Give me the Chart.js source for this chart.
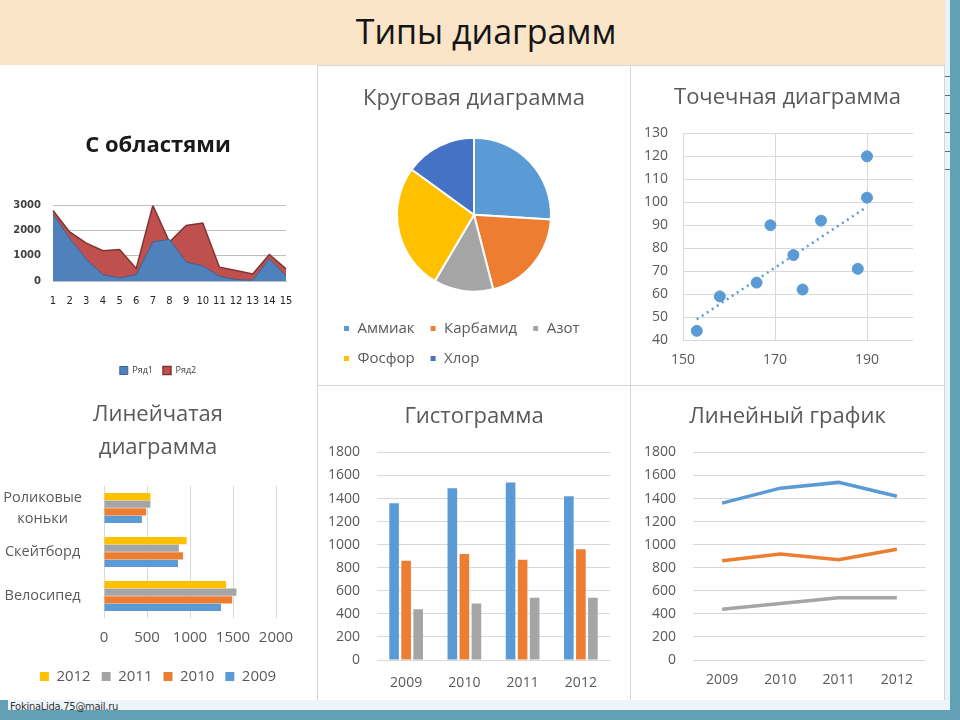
<!DOCTYPE html>
<html lang="ru">
  <head>
    <meta charset="UTF-8" />
    <title>Типы диаграмм</title>
    <script src="https://cdn.jsdelivr.net/npm/chart.js"></script>
    <style>
      body {
        margin: 0;
        width: 960px;
        height: 720px;
        overflow: hidden;
        position: relative;
        background: #fff;
        font-family: "Open Sans", sans-serif;
      }
      .abs {
        position: absolute;
      }
      #header {
        left: 0;
        top: 0;
        width: 945px;
        height: 65px;
        background: #fbe5c9;
      }
      #header div {
        position: absolute;
        left: 236px;
        top: 8px;
        width: 500px;
        text-align: center;
        font-size: 34px;
        color: #151515;
      }
      .line {
        position: absolute;
        background: #d6d6d6;
      }
      .tick {
        position: absolute;
        left: 945px;
        width: 5px;
        height: 1px;
        background: #666;
      }
      #footer-text {
        left: 10px;
        top: 701px;
        font-size: 10px;
        color: #333;
        font-family: "DejaVu Sans", sans-serif;
        letter-spacing: -0.3px;
      }
    </style>
  </head>

  <body>
    <div id="header" class="abs"><div>Типы диаграмм</div></div>

    <!-- frame -->
    <div class="abs" style="left: 945px; top: 0; width: 5px; height: 710px; background: #eaf3f7"></div>
    <div class="abs" style="left: 950px; top: 0; width: 10px; height: 720px; background: #62a0b5"></div>
    <div class="abs" style="left: 0; top: 700px; width: 950px; height: 10px; background: #eef5f8"></div>
    <div class="abs" style="left: 0; top: 710px; width: 960px; height: 10px; background: #62a0b5"></div>
    <div class="abs" style="left: 0; top: 700px; width: 8px; height: 12px; background: #62a0b5"></div>
    <div class="tick" style="top: 76px"></div>
    <div class="tick" style="top: 95px"></div>
    <div class="tick" style="top: 113px"></div>
    <div class="tick" style="top: 132px"></div>
    <div class="tick" style="top: 151px"></div>
    <div class="tick" style="top: 169px"></div>

    <!-- panel dividers -->
    <div class="line" style="left: 318px; top: 65px; width: 627px; height: 1px"></div>
    <div class="line" style="left: 317px; top: 65px; width: 1px; height: 635px"></div>
    <div class="line" style="left: 630px; top: 65px; width: 1px; height: 635px"></div>
    <div class="line" style="left: 318px; top: 385px; width: 627px; height: 1px"></div>
    <div class="line" style="left: 944px; top: 65px; width: 1px; height: 635px"></div>

    <canvas id="areaChart" class="abs" style="left: 0; top: 65px" width="316" height="320"></canvas>
    <canvas id="pieChart" class="abs" style="left: 318px; top: 66px" width="312" height="319"></canvas>
    <canvas id="scatterChart" class="abs" style="left: 631px; top: 66px" width="313" height="319"></canvas>
    <canvas id="hbarChart" class="abs" style="left: 0; top: 385px" width="316" height="315"></canvas>
    <canvas id="histChart" class="abs" style="left: 318px; top: 386px" width="312" height="314"></canvas>
    <canvas id="lineChart" class="abs" style="left: 631px; top: 386px" width="313" height="314"></canvas>

    <div id="footer-text" class="abs">FokinaLida.75@mail.ru</div>

    <script>
      // --- data ---
      const areaLabels = ["1", "2", "3", "4", "5", "6", "7", "8", "9", "10", "11", "12", "13", "14", "15"];
      const row1 = [2650, 1700, 860, 250, 120, 250, 1550, 1650, 750, 600, 180, 60, 30, 880, 200];
      const row2 = [2800, 1950, 1500, 1200, 1250, 500, 3000, 1550, 2200, 2300, 550, 420, 280, 1050, 480];

      const pieLabels = ["Аммиак", "Карбамид", "Азот", "Фосфор", "Хлор"];
      const pieValues = [26, 20, 12.5, 26.5, 15];

      const scatterX = [153, 158, 166, 169, 174, 176, 180, 188, 190, 190];
      const scatterY = [44, 59, 65, 90, 77, 62, 92, 71, 102, 120];
      const trendX = [153, 190];
      const trendY = [49, 98];
      const scatterXTicks = [150, 170, 190];

      const years = ["2009", "2010", "2011", "2012"];
      const series1 = [1360, 1490, 1540, 1420];
      const series2 = [860, 920, 870, 960];
      const series3 = [440, 490, 540, 540];

      const sportLabels = [["Роликовые", "коньки"], "Скейтборд", "Велосипед"];

      // --- colours ---
      const blue = "#5b9bd5";
      const orange = "#ed7d31";
      const gray = "#a5a5a5";
      const yellow = "#ffc000";
      const darkBlue = "#4472c4";
      const gridColor = "#d9d9d9";
      const yearColors = [blue, orange, gray, yellow];

      Chart.defaults.font.family = "'Open Sans', sans-serif";
      Chart.defaults.color = "#595959";
      Chart.defaults.animation = false;
      Chart.defaults.responsive = false;
      Chart.defaults.plugins.tooltip.enabled = false;

      const fixWidth = (w) => (axis) => {
        axis.width = w;
      };
      const fixHeight = (h) => (axis) => {
        axis.height = h;
      };
      // empty axis on the right, only to leave room after the plot
      const spacerAxis = (w) => ({
        type: "linear",
        position: "right",
        ticks: { display: false },
        grid: { display: false, drawTicks: false },
        border: { display: false },
        afterFit: fixWidth(w),
      });
      const plainNumber = { useGrouping: false };
      const chartTitle = (text, top, bottom) => ({
        display: true,
        text: text,
        color: "#595959",
        font: { size: 22, weight: "normal", lineHeight: 1.2 },
        padding: { top: top, bottom: bottom },
      });

      // С областями
      new Chart(document.getElementById("areaChart"), {
        type: "line",
        data: {
          labels: areaLabels,
          datasets: [
            {
              label: "Ряд1",
              data: row1,
              fill: "origin",
              backgroundColor: "#4f81bd",
              borderColor: "#3a6494",
              borderWidth: 1,
              pointRadius: 0,
            },
            {
              label: "Ряд2",
              data: row2,
              fill: "origin",
              backgroundColor: "#c0504d",
              borderColor: "#7f3331",
              borderWidth: 1.5,
              pointRadius: 0,
            },
          ],
        },
        options: {
          plugins: {
            title: {
              display: true,
              text: "С областями",
              color: "#1a1a1a",
              font: { size: 22, weight: "bold" },
              padding: { top: 68, bottom: 46 },
            },
            legend: {
              position: "bottom",
              labels: { boxWidth: 8, boxHeight: 8, font: { size: 9 }, color: "#404040", padding: 10 },
            },
          },
          scales: {
            x: {
              grid: { display: false, drawTicks: false },
              border: { color: "#bfbfbf" },
              ticks: {
                font: { family: "'DejaVu Sans', sans-serif", size: 10 },
                color: "#262626",
                padding: 14,
                maxRotation: 0,
                autoSkip: false,
              },
              afterFit: fixHeight(75),
            },
            y: {
              min: 0,
              max: 3000,
              ticks: {
                stepSize: 1000,
                format: plainNumber,
                font: { family: "'DejaVu Sans', sans-serif", size: 10, weight: "bold" },
                color: "#404040",
                padding: 12,
              },
              grid: { color: "#bfbfbf", drawTicks: false },
              border: { display: false },
              afterFit: fixWidth(53),
            },
            yRight: spacerAxis(30),
          },
        },
      });

      // Круговая диаграмма
      new Chart(document.getElementById("pieChart"), {
        type: "pie",
        data: {
          labels: pieLabels,
          datasets: [
            {
              data: pieValues,
              backgroundColor: [blue, orange, gray, yellow, darkBlue],
              borderColor: "#fff",
              borderWidth: 2,
            },
          ],
        },
        options: {
          radius: 77,
          layout: { padding: { left: 10, right: 10, bottom: 9 } },
          plugins: {
            title: chartTitle("Круговая диаграмма", 20, 11),
            legend: {
              position: "bottom",
              align: "start",
              labels: { boxWidth: 7, boxHeight: 7, font: { size: 15 }, color: "#595959", padding: 15 },
            },
          },
        },
      });

      // Точечная диаграмма
      new Chart(document.getElementById("scatterChart"), {
        type: "scatter",
        data: {
          datasets: [
            {
              label: "Точки",
              data: scatterX.map((x, i) => ({ x: x, y: scatterY[i] })),
              backgroundColor: blue,
              borderColor: blue,
              pointRadius: 5.5,
            },
            {
              label: "Тренд",
              type: "line",
              data: trendX.map((x, i) => ({ x: x, y: trendY[i] })),
              borderColor: blue,
              borderWidth: 2.5,
              borderDash: [2, 4],
              pointRadius: 0,
              fill: false,
            },
          ],
        },
        options: {
          plugins: {
            title: chartTitle("Точечная диаграмма", 19, 22),
            legend: { display: false },
          },
          scales: {
            x: {
              type: "linear",
              min: 150,
              max: 200,
              afterBuildTicks: (axis) => {
                axis.ticks = scatterXTicks.map((v) => ({ value: v }));
              },
              grid: { color: gridColor, drawTicks: false },
              border: { display: false },
              ticks: { font: { size: 14 }, padding: 12 },
              afterFit: fixHeight(45),
            },
            y: {
              min: 40,
              max: 130,
              ticks: { stepSize: 10, font: { size: 14 }, padding: 15 },
              grid: { color: gridColor, drawTicks: false },
              border: { display: false },
              afterFit: fixWidth(52),
            },
            yRight: spacerAxis(31),
          },
        },
      });

      // Линейчатая диаграмма
      const hbarOrder = [3, 2, 1, 0]; // 2012 ... 2009
      new Chart(document.getElementById("hbarChart"), {
        type: "bar",
        data: {
          labels: sportLabels,
          datasets: hbarOrder.map((i) => ({
            label: years[i],
            data: [series3[i], series2[i], series1[i]],
            backgroundColor: yearColors[i],
            barPercentage: 0.95,
            categoryPercentage: 0.69,
          })),
        },
        options: {
          indexAxis: "y",
          layout: { padding: { bottom: 6 } },
          plugins: {
            title: {
              display: true,
              text: ["Линейчатая", "диаграмма"],
              color: "#595959",
              font: { size: 22, weight: "normal", lineHeight: 1.5 },
              padding: { top: 13, bottom: 22 },
            },
            legend: {
              position: "bottom",
              labels: { boxWidth: 9, boxHeight: 9, font: { size: 15 }, color: "#595959", padding: 11 },
            },
          },
          scales: {
            x: {
              min: 0,
              max: 2000,
              ticks: { stepSize: 500, format: plainNumber, font: { size: 15 }, padding: 11, maxRotation: 0 },
              grid: { color: gridColor, drawTicks: false },
              border: { display: false },
              afterFit: fixHeight(40),
            },
            y: {
              ticks: {
                font: { size: 14.5, lineHeight: 1.45 },
                padding: 14,
                color: "#595959",
                autoSkip: false,
                crossAlign: "center",
              },
              grid: { display: false },
              border: { display: false },
              afterFit: fixWidth(104),
            },
            yRight: {
              type: "category",
              position: "right",
              ticks: { display: false },
              grid: { display: false, drawTicks: false },
              border: { display: false },
              afterFit: fixWidth(40),
            },
          },
        },
      });

      // Гистограмма
      new Chart(document.getElementById("histChart"), {
        type: "bar",
        data: {
          labels: years,
          datasets: [series1, series2, series3].map((s, i) => ({
            label: "Ряд" + (i + 1),
            data: s,
            backgroundColor: [blue, orange, gray][i],
            barPercentage: 0.8,
            categoryPercentage: 0.62,
          })),
        },
        options: {
          plugins: {
            title: chartTitle("Гистограмма", 18, 22),
            legend: { display: false },
          },
          scales: {
            x: {
              grid: { display: false, drawTicks: false },
              border: { display: false },
              ticks: { font: { size: 14 }, padding: 15 },
              afterFit: fixHeight(40),
            },
            y: {
              min: 0,
              max: 1800,
              ticks: { stepSize: 200, format: plainNumber, font: { size: 14 }, padding: 17 },
              grid: { color: gridColor, drawTicks: false },
              border: { display: false },
              afterFit: fixWidth(59),
            },
            yRight: spacerAxis(20),
          },
        },
      });

      // Линейный график
      new Chart(document.getElementById("lineChart"), {
        type: "line",
        data: {
          labels: years,
          datasets: [series1, series2, series3].map((s, i) => ({
            label: "Ряд" + (i + 1),
            data: s,
            borderColor: [blue, orange, gray][i],
            borderWidth: 3.5,
            pointRadius: 0,
            tension: 0,
          })),
        },
        options: {
          plugins: {
            title: chartTitle("Линейный график", 18, 22),
            legend: { display: false },
          },
          scales: {
            x: {
              offset: true,
              grid: { display: false, drawTicks: false },
              border: { display: false },
              ticks: { font: { size: 14 }, padding: 12 },
              afterFit: fixHeight(40),
            },
            y: {
              min: 0,
              max: 1800,
              ticks: { stepSize: 200, format: plainNumber, font: { size: 14 }, padding: 17 },
              grid: { color: gridColor, drawTicks: false },
              border: { display: false },
              afterFit: fixWidth(62),
            },
            yRight: spacerAxis(18),
          },
        },
      });
    </script>
  </body>
</html>
